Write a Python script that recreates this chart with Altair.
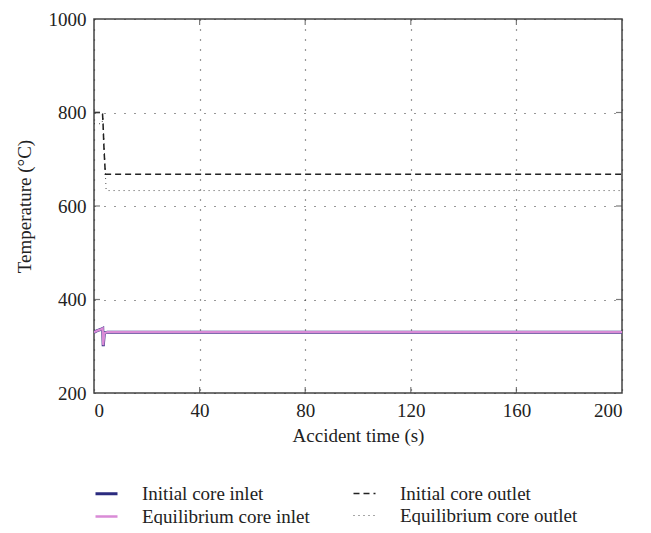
import altair as alt
import pandas as pd

series_names = ["Initial core inlet", "Equilibrium core inlet",
                "Initial core outlet", "Equilibrium core outlet"]

t_init_inlet = [0, 1.5, 3.0, 3.3, 3.5, 3.9, 5, 200]
v_init_inlet = [330, 334, 337, 338, 300, 328, 330, 330]

t_eq_inlet = [0, 1.5, 3.0, 3.3, 3.5, 3.9, 5, 200]
v_eq_inlet = [330, 334, 337, 338, 302, 328, 330, 330]

t_init_outlet = [0, 3.2, 3.4, 3.8, 4.3, 200]
v_init_outlet = [800, 800, 780, 720, 668, 668]

t_eq_outlet = [0, 3.1, 3.3, 3.6, 4.6, 200]
v_eq_outlet = [776, 776, 800, 760, 633, 633]

x_ticks = [0, 40, 80, 120, 160, 200]
y_ticks = [200, 400, 600, 800, 1000]
x_inner = [40, 80, 120, 160]
y_inner = [400, 600, 800]

colors = ["#2b2b7f", "#d98bd6", "#222222", "#222222"]
dashes = [[1, 0], [1, 0], [6, 4], [1, 4]]
widths = [3.0, 0.8, 1.1, 1.1]

rows = []
for name, ts, vs in [(series_names[0], t_init_inlet, v_init_inlet),
                     (series_names[1], t_eq_inlet, v_eq_inlet),
                     (series_names[2], t_init_outlet, v_init_outlet),
                     (series_names[3], t_eq_outlet, v_eq_outlet)]:
    for i, (t, v) in enumerate(zip(ts, vs)):
        rows.append({"series": name, "t": t, "v": v, "i": i})
df = pd.DataFrame(rows)

font = "Liberation Serif"
fs = 19
W, H = 528, 374

legend = alt.Legend(title=None, orient="none", legendX=0, legendY=462, columns=2,
                    symbolType="stroke", symbolSize=484, labelFontSize=fs, labelFont=font,
                    labelColor="#222222", columnPadding=40, rowPadding=0, labelOffset=23,
                    labelLimit=400)

xs = alt.Scale(domain=[0, 200], nice=False)
ys = alt.Scale(domain=[200, 1000], nice=False)

x_axis = alt.Axis(title="Accident time (s)", values=x_ticks, format="d",
                  grid=True, gridDash=[1, 9], gridColor="#333333", gridWidth=1.2)
y_axis = alt.Axis(title="Temperature (°C)", values=y_ticks, format="d",
                  grid=True, gridDash=[1, 9], gridColor="#333333", gridWidth=1.2)

main = alt.Chart(df).mark_line(clip=True).encode(
    x=alt.X("t:Q", scale=xs, axis=x_axis),
    y=alt.Y("v:Q", scale=ys, axis=y_axis),
    color=alt.Color("series:N", scale=alt.Scale(domain=series_names, range=colors), legend=legend),
    strokeDash=alt.StrokeDash("series:N", scale=alt.Scale(domain=series_names, range=dashes), legend=legend),
    strokeWidth=alt.StrokeWidth("series:N", scale=alt.Scale(domain=series_names, range=widths), legend=legend),
    order="i:Q",
    detail="series:N",
)

def xtick_layer(yval, off):
    d = pd.DataFrame({"t": x_inner, "v": [yval] * len(x_inner)})
    return alt.Chart(d).mark_tick(orient="vertical", size=6, thickness=1.2,
                                  color="#444444", yOffset=off).encode(
        x=alt.X("t:Q", scale=xs, axis=x_axis),
        y=alt.Y("v:Q", scale=ys, axis=y_axis),
    )

def ytick_layer(xval, off):
    d = pd.DataFrame({"t": [xval] * len(y_inner), "v": y_inner})
    return alt.Chart(d).mark_tick(orient="horizontal", size=6, thickness=1.2,
                                  color="#444444", xOffset=off).encode(
        x=alt.X("t:Q", scale=xs, axis=x_axis),
        y=alt.Y("v:Q", scale=ys, axis=y_axis),
    )

chart = alt.layer(
    main,
    xtick_layer(200, -3), xtick_layer(1000, 3),
    ytick_layer(0, 3), ytick_layer(200, -3),
).properties(
    width=W, height=H,
    autosize=alt.AutoSizeParams(type="none"),
    padding={"left": 86, "top": 11, "right": 21, "bottom": 132},
).configure_view(
    stroke="#444444", strokeWidth=1.5
).configure_axis(
    labelFont=font, titleFont=font, labelFontSize=fs, titleFontSize=fs,
    labelColor="#222222", titleColor="#222222", titleFontWeight="normal",
    domain=False, ticks=False, labelPadding=8,
).configure_axisX(
    titlePadding=6
).configure_axisY(
    titlePadding=14
)

chart.save("out.html", embed_options={"renderer": "svg", "actions": False})
